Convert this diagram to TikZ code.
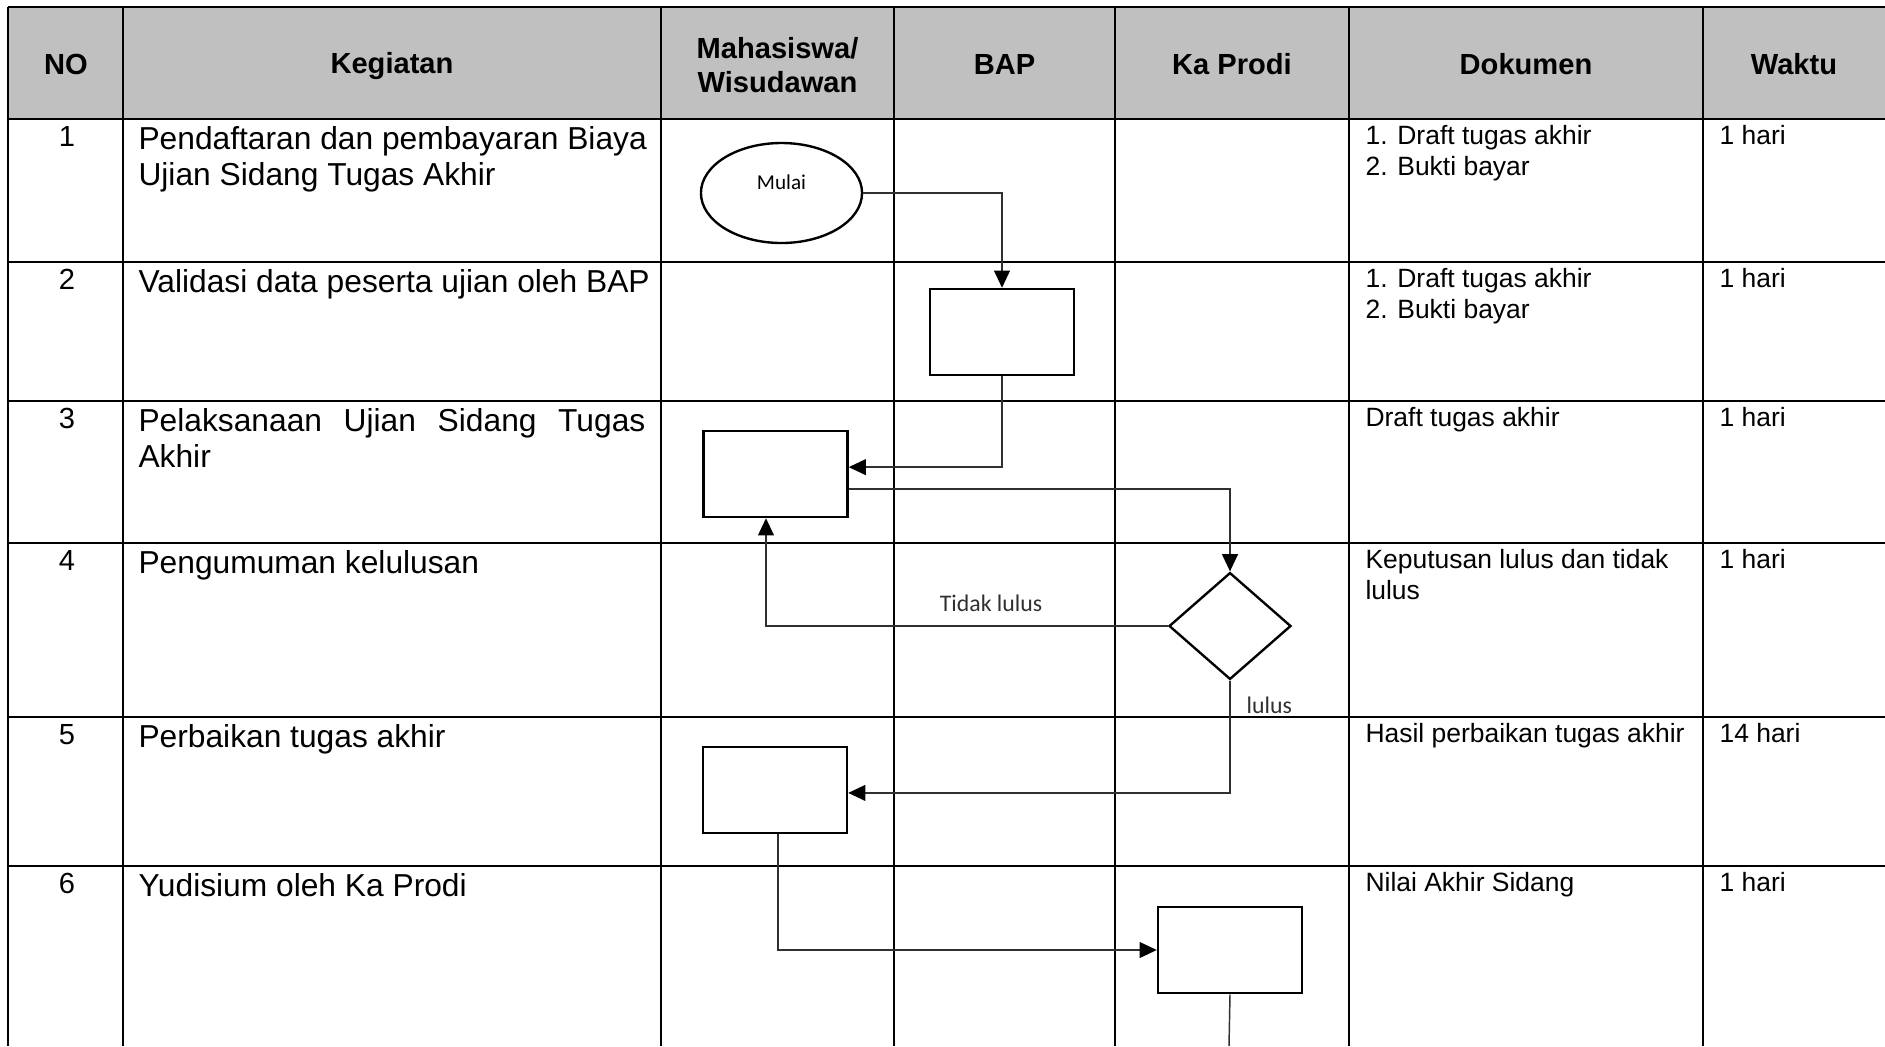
\documentclass[tikz,border=0pt]{standalone}
\usepackage{fontspec}
\setmainfont{Liberation Sans}
\newfontfamily\calibrifont{Carlito}
\usetikzlibrary{arrows.meta,shapes.geometric}
\definecolor{headgray}{HTML}{C0C0C0}
\definecolor{flowgray}{HTML}{303030}
\tikzset{
  gridline/.style={line width=0.8pt},
  flowbox/.style={draw,line width=0.95pt,minimum width=54.4pt,minimum height=32.5pt,inner sep=0pt},
  startnode/.style={draw,ellipse,line width=0.9pt,minimum width=60.9pt,minimum height=37.8pt,inner sep=0pt,
    text depth=8pt,font=\calibrifont\fontsize{8}{9.6}\selectfont},
  decision/.style={draw,diamond,line width=0.9pt,minimum width=46.1pt,minimum height=40.4pt,inner sep=0pt},
  flowline/.style={flowgray,line width=0.55pt,-{Triangle[length=6.5pt,width=6pt,color=black]}},
  flowlabel/.style={font=\calibrifont\fontsize{9}{10.8}\selectfont,inner sep=0pt},
  headtext/.style={font=\bfseries\fontsize{11}{12.9}\selectfont,align=center,inner sep=0pt},
  numtext/.style={font=\fontsize{11}{13}\selectfont,anchor=base,inner sep=0pt},
  acttext/.style={font=\fontsize{12}{14}\selectfont,anchor=base west,inner sep=0pt},
  doctext/.style={font=\fontsize{10}{11.5}\selectfont,anchor=base west,inner sep=0pt},
}

\begin{document}
\begin{tikzpicture}[x=0.378pt,y=-0.378pt]
  \useasboundingbox (0,0) rectangle (1885,1046);

  % Header band
  \fill[headgray] (8,7) rectangle (1885,119);

  % Table grid
  \foreach \y in {7,119,262,401,543,717,866}
    \draw[gridline] (8,\y) -- (1885,\y);
  \foreach \x in {8,123,661,894,1115,1349,1703}
    \draw[gridline] (\x,7) -- (\x,1046);

  % Column titles
  \node[headtext] (hno) at (66,64) {NO};
  \node[headtext] (hact) at (392,66) {Kegiatan};
  \node[headtext] (hmhs) at (777.5,65) {Mahasiswa/\\Wisudawan};
  \node[headtext] (hbap) at (1004.5,64) {BAP};
  \node[headtext] (hkap) at (1232,64) {Ka Prodi};
  \node[headtext] (hdoc) at (1526,64) {Dokumen};
  \node[headtext] (hwkt) at (1794,64) {Waktu};

  % Row numbers
  \foreach \n/\y in {1/146, 2/289, 3/428, 4/570, 5/744, 6/893}
    \node[numtext] (no\n) at (67,\y) {\n};

  % Activities
  \node[acttext] (act1a) at (138,149) {Pendaftaran dan pembayaran Biaya};
  \node[acttext] (act1b) at (138,185) {Ujian Sidang Tugas Akhir};
  \node[acttext] (act2) at (138,292) {Validasi data peserta ujian oleh BAP};
  \node[acttext] (act3a) at (138,431) {\makebox[191.6pt][s]{Pelaksanaan Ujian Sidang Tugas}};
  \node[acttext] (act3b) at (138,467) {Akhir};
  \node[acttext] (act4) at (138,573) {Pengumuman kelulusan};
  \node[acttext] (act5) at (138,747) {Perbaikan tugas akhir};
  \node[acttext] (act6) at (138,896) {Yudisium oleh Ka Prodi};

  % Documents
  \foreach \y/\t [count=\i] in {144/1. Draft tugas akhir, 175/2. Bukti bayar,
                                287/1. Draft tugas akhir, 318/2. Bukti bayar,
                                426/Draft tugas akhir,
                                568/Keputusan lulus dan tidak, 599/lulus,
                                742/Hasil perbaikan tugas akhir,
                                891/Nilai Akhir Sidang}
    \node[doctext] (doc\i) at (1365,\y) {\t};

  % Time
  \foreach \y/\t [count=\i] in {144/1 hari, 287/1 hari, 426/1 hari,
                                568/1 hari, 742/14 hari, 891/1 hari}
    \node[doctext] (wkt\i) at (1719,\y) {\t};

  % Flow shapes
  \node[startnode] (mulai) at (781.5,193) {Mulai};
  \node[flowbox] (valid) at (1002,332) {};
  \node[flowbox] (ujian) at (775.5,474) {};
  \node[decision] (lulus) at (1230,626) {};
  \node[flowbox] (revisi) at (775,790) {};
  \node[flowbox] (yudis) at (1230,950) {};
  \coordinate (flowend) at (1229,1046);

  % Connectors
  \draw[flowline] (mulai.east) -| (valid.north);
  \draw[flowline] (valid.south) |- ([yshift=2.6pt]ujian.east);
  \draw[flowline] ([yshift=-5.7pt]ujian.east) -| (lulus.north);
  \draw[flowline] (lulus.west) -| node[flowlabel,pos=0.22,above=5.3pt] {Tidak lulus}
    ([xshift=-3.6pt]ujian.south);
  \draw[flowline] (lulus.south) |- node[flowlabel,pos=0.11,right=6pt] {lulus}
    ([yshift=-1.1pt]revisi.east);
  \draw[flowline] ([xshift=1.1pt]revisi.south) |- (yudis.west);
  \draw[flowgray,line width=0.55pt] (yudis.south) -- (flowend);
\end{tikzpicture}
\end{document}
